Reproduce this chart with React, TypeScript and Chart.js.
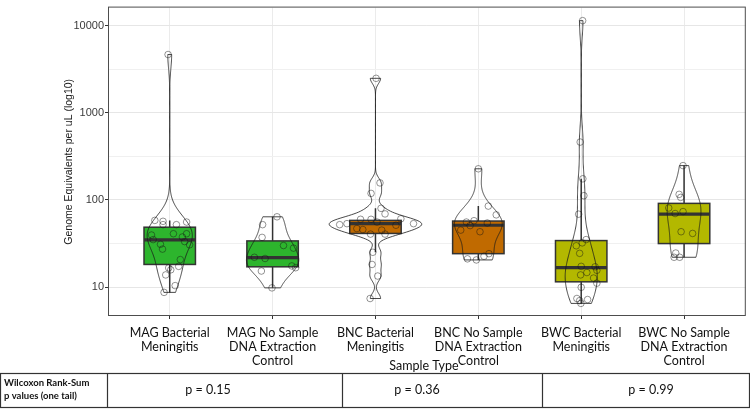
import React, { useEffect, useRef } from 'react';
import { Chart, registerables } from 'chart.js';

Chart.register(...registerables);

// ---------- data ----------
const categories: string[][] = [
  ['MAG Bacterial', 'Meningitis'],
  ['MAG No Sample', 'DNA Extraction', 'Control'],
  ['BNC Bacterial', 'Meningitis'],
  ['BNC No Sample', 'DNA Extraction', 'Control'],
  ['BWC Bacterial', 'Meningitis'],
  ['BWC No Sample', 'DNA Extraction', 'Control'],
];
const boxColors = ['#2DB52D', '#2DB52D', '#C06A00', '#C06A00', '#B3B800', '#B3B800'];

// genome equivalents per uL, one array per sample group
const magBacterialValues = [4670, 58.3, 56.9, 52.1, 52.1, 55.8, 39.6, 41.0, 41.0, 37.6, 35.1, 33.3, 31.0, 30.6, 27.3, 20.7, 17.3, 16.6, 15.8, 13.8, 10.4, 8.7];
const magBacterialJitter = [-0.016, -0.145, -0.065, -0.065, 0.065, 0.164, -0.177, 0.036, 0.164, 0.123, -0.161, 0.145, -0.09, 0.193, -0.07, 0.103, 0.087, -0.01, 0.01, -0.039, 0.053, -0.055];

const magControlValues = [64.1, 52.1, 37.2, 30.0, 28.0, 22.0, 21.3, 17.5, 16.7, 15.3, 9.8];
const magControlJitter = [0.043, -0.097, -0.102, 0.106, 0.203, -0.177, -0.073, 0.187, 0.224, -0.109, -0.006];

const bncBacterialValues = [2490, 157, 119, 80.2, 69.2, 60.0, 60.0, 55.8, 60.8, 52.1, 53.5, 53.5, 51.3, 47.0, 45.8, 45.1, 40.6, 40.6, 25.1, 18.2, 13.4, 7.4];
const bncBacterialJitter = [0.006, 0.044, -0.043, 0.054, 0.093, -0.145, -0.043, 0.015, 0.247, -0.348, -0.277, 0.37, 0.199, -0.181, -0.123, 0.061, -0.048, 0.093, -0.026, -0.033, 0.022, -0.052];

const bncControlValues = [228, 85.1, 67.5, 55.8, 57.8, 50.8, 54.4, 45.1, 43.2, 24.2, 22.6, 21.1, 20.5];
const bncControlJitter = [0, 0.097, 0.174, -0.116, -0.042, -0.08, 0.087, -0.171, 0.016, 0.103, 0.055, -0.106, -0.019];

const bwcBacterialValues = [11430, 462, 175, 112, 68.7, 35.1, 32.2, 29.8, 24.4, 17.3, 17.1, 15.6, 14.7, 13.8, 12.7, 11.1, 9.95, 7.4, 7.2, 7.0, 6.5];
const bwcBacterialJitter = [0.014, -0.01, 0.016, 0.026, -0.025, 0.048, 0.01, -0.048, -0.015, 0, 0.135, 0.152, 0.055, -0.006, 0.12, 0.152, 0, -0.042, 0.062, -0.015, -0.003];

const bwcControlValues = [248, 116, 107, 80.9, 73.6, 69.9, 43.2, 41.3, 24.6, 22.0, 22.0];
const bwcControlJitter = [-0.01, -0.048, -0.033, -0.149, -0.01, -0.087, -0.029, 0.083, -0.081, -0.097, -0.043];

// box-plot statistics
const boxLow = [8.7, 9.8, 25.1, 20.5, 6.5, 22.0];
const boxQ1 = [18.2, 17.1, 41.3, 24.2, 11.5, 31.6];
const boxMedian = [34.8, 21.8, 53.5, 51.3, 16.7, 68.7];
const boxQ3 = [48.7, 33.9, 58.3, 57.3, 34.2, 91.4];
const boxHigh = [58.3, 64.1, 80.2, 85.1, 175, 248];

const yMajorTicks = [10, 100, 1000, 10000];
const yMinorTicks = [31.62, 316.2, 3162];
const yMin = 4.66;
const yMax = 16140;

const tableHeader = ['Wilcoxon Rank-Sum', 'p values (one tail)'];
const pValueLabels = ['p = 0.15', 'p = 0.36', 'p = 0.99'];

const groupValues = [magBacterialValues, magControlValues, bncBacterialValues, bncControlValues, bwcBacterialValues, bwcControlValues];
const groupJitter = [magBacterialJitter, magControlJitter, bncBacterialJitter, bncControlJitter, bwcBacterialJitter, bwcControlJitter];

// ---------- helpers ----------
function quantile(sorted: number[], p: number) {
  const pos = (sorted.length - 1) * p;
  const lo = Math.floor(pos);
  const hi = Math.ceil(pos);
  return sorted[lo] + (sorted[hi] - sorted[lo]) * (pos - lo);
}

function density(logs: number[]) {
  const n = logs.length;
  const mean = logs.reduce((a, b) => a + b, 0) / n;
  const sd = Math.sqrt(logs.reduce((a, b) => a + (b - mean) * (b - mean), 0) / (n - 1));
  const s = [...logs].sort((a, b) => a - b);
  const iqr = quantile(s, 0.75) - quantile(s, 0.25);
  let lo = Math.min(sd, iqr / 1.34);
  if (!(lo > 0)) lo = sd || 1;
  const bw = 0.9 * lo * Math.pow(n, -0.2);
  const min = s[0];
  const max = s[n - 1];
  const N = 256;
  const pts: [number, number][] = [];
  for (let i = 0; i < N; i++) {
    const y = min + ((max - min) * i) / (N - 1);
    let d = 0;
    for (const v of logs) {
      const z = (y - v) / bw;
      d += Math.exp(-0.5 * z * z) / Math.sqrt(2 * Math.PI);
    }
    pts.push([y, d / (n * bw)]);
  }
  return pts;
}

const violinPlugin = {
  id: 'violinBox',
  beforeDatasetsDraw(chart: any) {
    const { ctx, scales } = chart;
    const xs = scales.x;
    const ys = scales.y;
    const dens = groupValues.map((vals) => density(vals.map((v) => Math.log10(v))));
    let gmax = 0;
    dens.forEach((d) => d.forEach((p) => (gmax = Math.max(gmax, p[1]))));
    ctx.save();
    // boxes
    for (let i = 0; i < 6; i++) {
      const c = i + 1;
      const xc = xs.getPixelForValue(c);
      const xl = xs.getPixelForValue(c - 0.25);
      const xr = xs.getPixelForValue(c + 0.25);
      const yq1 = ys.getPixelForValue(boxQ1[i]);
      const yq3 = ys.getPixelForValue(boxQ3[i]);
      const ylo = ys.getPixelForValue(boxLow[i]);
      const yhi = ys.getPixelForValue(boxHigh[i]);
      const ymed = ys.getPixelForValue(boxMedian[i]);
      ctx.strokeStyle = '#333333';
      ctx.lineWidth = 1.5;
      ctx.beginPath();
      ctx.moveTo(xc, yq3);
      ctx.lineTo(xc, yhi);
      ctx.moveTo(xc, yq1);
      ctx.lineTo(xc, ylo);
      ctx.stroke();
      ctx.fillStyle = boxColors[i];
      ctx.fillRect(xl, yq3, xr - xl, yq1 - yq3);
      ctx.strokeRect(xl, yq3, xr - xl, yq1 - yq3);
      ctx.lineWidth = 3.2;
      ctx.beginPath();
      ctx.moveTo(xl, ymed);
      ctx.lineTo(xr, ymed);
      ctx.stroke();
    }
    // violins
    ctx.strokeStyle = '#1a1a1a';
    ctx.lineWidth = 0.8;
    for (let i = 0; i < 6; i++) {
      const c = i + 1;
      const d = dens[i];
      ctx.beginPath();
      d.forEach((p, k) => {
        const x = xs.getPixelForValue(c + (0.45 * p[1]) / gmax);
        const y = ys.getPixelForValue(Math.pow(10, p[0]));
        if (k === 0) ctx.moveTo(x, y);
        else ctx.lineTo(x, y);
      });
      for (let k = d.length - 1; k >= 0; k--) {
        const p = d[k];
        ctx.lineTo(xs.getPixelForValue(c - (0.45 * p[1]) / gmax), ys.getPixelForValue(Math.pow(10, p[0])));
      }
      ctx.closePath();
      ctx.stroke();
    }
    ctx.restore();
  },
  afterDraw(chart: any) {
    const { ctx, chartArea } = chart;
    ctx.save();
    // panel border
    ctx.strokeStyle = '#4d4d4d';
    ctx.lineWidth = 1;
    ctx.strokeRect(chartArea.left + 0.5, chartArea.top - 0.5, chartArea.right - chartArea.left - 1, chartArea.bottom - chartArea.top);
    // y title
    ctx.fillStyle = '#1a1a1a';
    ctx.font = '10.5px "Liberation Sans", Arial, sans-serif';
    ctx.textAlign = 'center';
    ctx.textBaseline = 'middle';
    ctx.save();
    ctx.translate(69, (chartArea.top + chartArea.bottom) / 2);
    ctx.rotate(-Math.PI / 2);
    ctx.fillText('Genome Equivalents per uL (log10)', 0, 0);
    ctx.restore();
    // x title
    ctx.font = '12.5px Lato, "Open Sans", sans-serif';
    ctx.fillStyle = '#111';
    ctx.fillText('Sample Type', 424, 366);
    // table
    ctx.strokeStyle = '#333';
    ctx.lineWidth = 1.2;
    ctx.strokeRect(0.5, 373.5, 749, 34);
    ctx.beginPath();
    [107.5, 342.5, 542.5].forEach((x) => {
      ctx.moveTo(x, 373.5);
      ctx.lineTo(x, 407.5);
    });
    ctx.stroke();
    ctx.textAlign = 'left';
    ctx.font = 'bold 9.5px Lato, "Open Sans", sans-serif';
    ctx.fillText(tableHeader[0], 4, 383);
    ctx.fillText(tableHeader[1], 4, 396);
    ctx.textAlign = 'center';
    ctx.font = '12.5px Lato, "Open Sans", sans-serif';
    const px = [208, 417, 651];
    pValueLabels.forEach((t, i) => ctx.fillText(t, px[i], 390));
    ctx.restore();
  },
};

export default function App() {
  const ref = useRef<HTMLCanvasElement | null>(null);
  useEffect(() => {
    if (!ref.current) return;
    const points: { x: number; y: number }[] = [];
    groupValues.forEach((vals, i) => vals.forEach((v, j) => points.push({ x: i + 1 + groupJitter[i][j], y: v })));
    const chart = new Chart(ref.current, {
      type: 'scatter',
      data: {
        datasets: [
          {
            data: points,
            pointRadius: 3.3,
            pointBorderWidth: 0.9,
            borderColor: 'rgba(20,20,20,0.5)',
            backgroundColor: 'rgba(0,0,0,0)',
            pointHoverRadius: 3.3,
            clip: false as any,
          },
        ],
      },
      options: {
        animation: false,
        responsive: false,
        devicePixelRatio: 1,
        layout: { padding: { top: 1, right: 1, left: 0, bottom: 0 } },
        plugins: { legend: { display: false }, tooltip: { enabled: false } },
        scales: {
          x: {
            type: 'linear',
            min: 0.4,
            max: 6.6,
            border: { display: false },
            afterBuildTicks: (scale: any) => {
              scale.ticks = categories.map((_, i) => ({ value: i + 1 }));
            },
            afterFit: (scale: any) => {
              scale.height = 94;
            },
            grid: { color: '#EBEBEB', lineWidth: 1, tickColor: '#333', tickLength: 3 },
            ticks: {
              autoSkip: false,
              maxRotation: 0,
              minRotation: 0,
              padding: 7,
              color: '#111',
              font: { family: 'Lato, "Open Sans", sans-serif', size: 12.5, lineHeight: 1.13 },
              callback: (v: any) => categories[Math.round(Number(v)) - 1] as any,
            },
          },
          y: {
            type: 'logarithmic',
            min: yMin,
            max: yMax,
            border: { display: false },
            afterBuildTicks: (scale: any) => {
              scale.ticks = [...yMajorTicks, ...yMinorTicks].sort((a, b) => a - b).map((v) => ({ value: v }));
            },
            afterFit: (scale: any) => {
              scale.width = 108;
            },
            grid: {
              color: (c: any) => (c.tick && yMajorTicks.includes(c.tick.value) ? '#E6E6E6' : '#F0F0F0'),
              lineWidth: 1,
              tickColor: (c: any) => (c.tick && yMajorTicks.includes(c.tick.value) ? '#333' : 'rgba(0,0,0,0)'),
              tickLength: 3,
            },
            ticks: {
              autoSkip: false,
              padding: 1,
              color: '#3a3a3a',
              font: { family: '"Liberation Sans", Arial, sans-serif', size: 11 },
              callback: (v: any) => (yMajorTicks.includes(Number(v)) ? String(v) : ''),
            },
          },
        },
      },
      plugins: [violinPlugin],
    });
    return () => chart.destroy();
  }, []);
  return (
    <div style={{ position: 'fixed', left: 0, top: 0, width: 750, height: 410, background: '#fff' }}>
      <canvas ref={ref} width={750} height={410} style={{ width: 750, height: 410, display: 'block' }} />
    </div>
  );
}
